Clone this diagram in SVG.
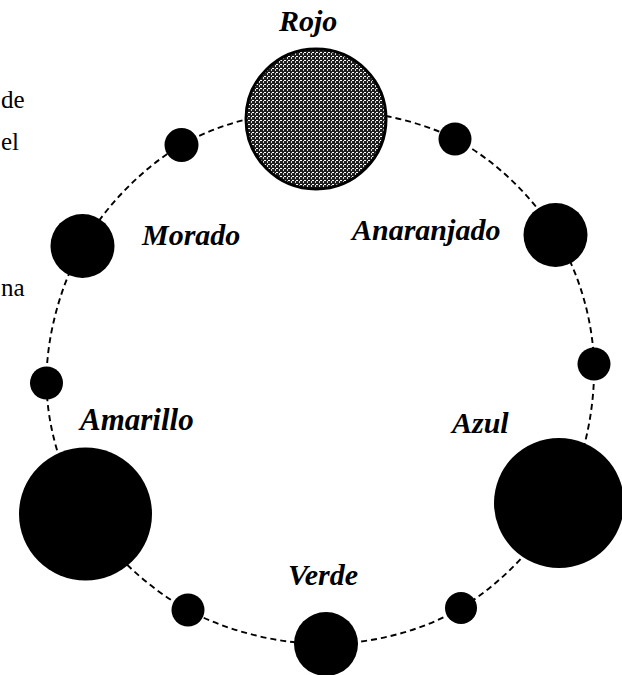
<svg xmlns="http://www.w3.org/2000/svg" width="622" height="675" viewBox="0 0 622 675">
<defs>
<pattern id="halftone" width="4" height="4" patternUnits="userSpaceOnUse">
<rect width="4" height="4" fill="#1f1f1f"/>
<rect x="0" y="0" width="2" height="1" fill="#ffffff"/>
<rect x="3" y="1" width="1" height="2" fill="#d8d8d8"/>
</pattern>
</defs>
<style>
.ring{fill:none;stroke:#000;stroke-width:1.9;stroke-dasharray:6 4}
.dot{fill:#000}
.lbl{font-family:"Liberation Serif","Times New Roman",serif;font-weight:bold;font-style:italic;font-size:30px;fill:#000}
.frag{font-family:"Liberation Serif","Times New Roman",serif;font-size:25px;fill:#000}
</style>
<rect width="622" height="675" fill="#fff"/>
<g id="page-fragments">
<text class="frag" x="1" y="108">de</text>
<text class="frag" x="1" y="150">el</text>
<text class="frag" x="1" y="296">na</text>
</g>
<g id="connectors">
<path class="ring" d="M316,110 C361.6,109 415.1,118.3 455,139"/>
<path class="ring" d="M455,139 C494.9,159.7 532.3,196.5 555.5,234"/>
<path class="ring" d="M555.5,234 C578.7,271.5 592.9,319.2 594,364"/>
<path class="ring" d="M594,364 C595.1,408.8 584.2,462.3 562,503"/>
<path class="ring" d="M562,503 C539.8,543.7 500.3,584.5 461,608"/>
<path class="ring" d="M461,608 C421.7,631.5 371.5,643.7 326,644"/>
<path class="ring" d="M326,644 C280.5,644.3 228.1,631.7 188,610"/>
<path class="ring" d="M188,610 C147.9,588.3 109.1,551.8 85.5,514"/>
<path class="ring" d="M85.5,514 C61.9,476.2 47,427.7 46.5,383"/>
<path class="ring" d="M46.5,383 C46,338.3 60,285.7 82.5,246"/>
<path class="ring" d="M82.5,246 C105,206.3 142.6,167.7 181.5,145"/>
<path class="ring" d="M181.5,145 C220.4,122.3 270.4,111 316,110"/>
</g>
<g id="rojo">
<circle cx="316" cy="119" r="70" fill="url(#halftone)" stroke="#000" stroke-width="3"/>
<text class="lbl" x="279" y="31">Rojo</text>
</g>
<g id="small-rojo-anaranjado"><circle class="dot" cx="455" cy="139" r="16.5"/></g>
<g id="anaranjado">
<circle class="dot" cx="555.5" cy="235" r="32"/>
<text class="lbl" x="352" y="240">Anaranjado</text>
</g>
<g id="small-anaranjado-azul"><circle class="dot" cx="594" cy="364" r="16.5"/></g>
<g id="azul">
<circle class="dot" cx="559" cy="503" r="65"/>
<text class="lbl" x="452" y="433">Azul</text>
</g>
<g id="small-azul-verde"><circle class="dot" cx="461" cy="608" r="16"/></g>
<g id="verde">
<circle class="dot" cx="326" cy="644" r="32"/>
<text class="lbl" x="288" y="585">Verde</text>
</g>
<g id="small-verde-amarillo"><circle class="dot" cx="188" cy="610" r="16.5"/></g>
<g id="amarillo">
<circle class="dot" cx="85.5" cy="514" r="66.5"/>
<text class="lbl" x="80" y="430" style="font-size:31px">Amarillo</text>
</g>
<g id="small-amarillo-morado"><circle class="dot" cx="46.5" cy="383" r="16.5"/></g>
<g id="morado">
<circle class="dot" cx="82.5" cy="246" r="32"/>
<text class="lbl" x="142" y="245">Morado</text>
</g>
<g id="small-morado-rojo"><circle class="dot" cx="181.5" cy="145" r="17"/></g>
</svg>
